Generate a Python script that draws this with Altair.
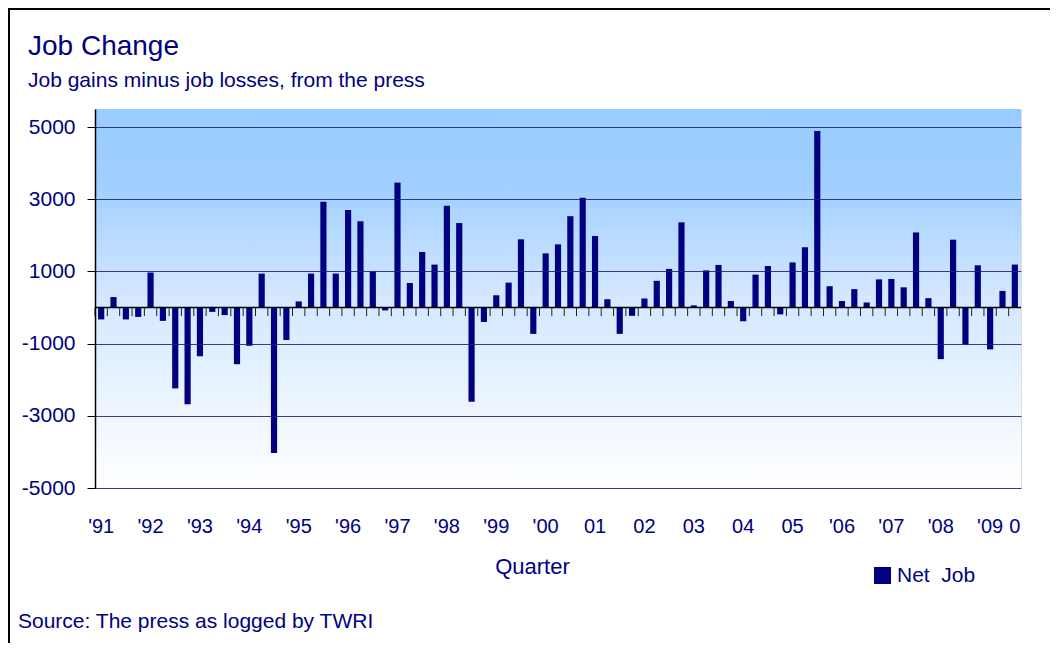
import altair as alt
import pandas as pd
import json

# ---- data ----
year_labels = ["'91", "'92", "'93", "'94", "'95", "'96", "'97", "'98", "'99", "'00",
               "01", "02", "03", "04", "05", "'06", "'07", "'08", "'09"]
last_label = "0"

net_job = [-330, 290, -330, -260, 970, -370, -2240, -2680, -1350, -120,
           -210, -1570, -1060, 940, -4030, -900, 170, 940, 2930, 940,
           2700, 2390, 1000, -80, 3460,
           680, 1540, 1190, 2820, 2340, -2610, -400, 340, 690, 1890,
           -730, 1500, 1750, 2530, 3040, 1980, 230, -730, -230, 250,
           740, 1070, 2360, 60, 1030,
           1180, 180, -380, 910, 1150, -190, 1250, 1670, 4890, 590,
           180, 510, 140, 780, 790, 560, 2080, 260, -1430, 1880,
           -1030, 1170, -1160, 460, 1190]

y_ticks = [-5000, -3000, -1000, 1000, 3000, 5000]
series_name = "Net\u00a0 Job"
title_text = "Job Change"
subtitle_text = "Job gains minus job losses, from the press"
source_text = "Source: The press as logged by TWRI"

n = len(net_job)
tick_labels = [year_labels[i // 4] if i % 4 == 0 else "" for i in range(n)]
tick_labels[-1] = last_label

df = pd.DataFrame({"q": list(range(n)), "value": net_job, "series": series_name})

NAVY = "#000080"
FONT = "Liberation Sans, Arial, sans-serif"
W, H = 926, 379

label_expr = json.dumps(tick_labels) + "[datum.value]"

x_enc = alt.X("q:N", title="Quarter",
              scale=alt.Scale(paddingInner=0, paddingOuter=0),
              axis=alt.Axis(labelExpr=label_expr, labelAngle=0, ticks=False, tickSize=0,
                            domain=False, labelOverlap=False, labelPadding=28,
                            labelFontSize=20, labelColor=NAVY, labelFont=FONT,
                            titleFont=FONT, titleFontSize=22, titleColor=NAVY,
                            titleFontWeight="normal", titleX=437, titleY=85,
                            titleBaseline="alphabetic"))

y_scale = alt.Scale(domain=[-5000, 5500], nice=False, zero=False)

background = alt.Chart(pd.DataFrame({"a": [0]})).mark_rect(
    fill=alt.LinearGradient(gradient="linear", x1=0, y1=0, x2=0, y2=1,
                            stops=[alt.GradientStop(color="#99CCFF", offset=0),
                                   alt.GradientStop(color="#A0CFFF", offset=0.2),
                                   alt.GradientStop(color="#D4E8FF", offset=0.5),
                                   alt.GradientStop(color="#FFFFFF", offset=1)])
).encode(x=alt.value(0), x2=alt.value(W), y=alt.value(0), y2=alt.value(H))

bars = alt.Chart(df).mark_bar(width={"band": 0.5}, color=NAVY).encode(
    x=x_enc,
    y=alt.Y("value:Q", title=None, scale=y_scale,
            axis=alt.Axis(values=y_ticks, grid=True, gridColor="#1a1a80", gridWidth=1,
                          gridOpacity=0.85, domain=True, domainColor="#000000",
                          domainWidth=1.5, tickColor="#000000", tickSize=8, ticks=True,
                          labelExpr="'' + datum.value",
                          labelFontSize=21, labelColor=NAVY, labelFont=FONT,
                          labelPadding=12, zindex=1)),
    color=alt.Color("series:N", scale=alt.Scale(range=[NAVY]),
                    legend=alt.Legend(title=None, orient="none", legendX=777, legendY=456,
                                      symbolType="square", symbolSize=289,
                                      symbolStrokeWidth=0, labelFontSize=21,
                                      labelColor=NAVY, labelFont=FONT, labelOffset=4,
                                      padding=0))
)

zero_line = alt.Chart(pd.DataFrame({"a": [0]})).mark_rule(color="#000000", strokeWidth=1.5).encode(
    y=alt.datum(0, scale=y_scale)
)

ticks = alt.Chart(df).mark_rule(color="#222222", strokeWidth=1).encode(
    x=alt.X("q:N", bandPosition=0),
    y=alt.datum(0),
    y2=alt.datum(-240),
)

def text_layer(txt, x, y, size):
    return alt.Chart(pd.DataFrame({"t": [txt]})).mark_text(
        align="left", baseline="alphabetic", font=FONT, fontSize=size, color=NAVY
    ).encode(x=alt.value(x), y=alt.value(y), text="t:N")

title = text_layer(title_text, -67, -54, 28)
subtitle = text_layer(subtitle_text, -67, -22, 21)
source = text_layer(source_text, -77, 519, 21)

frame = alt.Chart(pd.DataFrame({"a": [0]})).mark_rect(
    fill="transparent", stroke="#000000", strokeWidth=2
).encode(x=alt.value(-86), x2=alt.value(1200), y=alt.value(-100), y2=alt.value(800))

chart = alt.layer(background, bars, zero_line, ticks, title, subtitle, source, frame).properties(
    width=W, height=H,
    autosize=alt.AutoSizeParams(type="none"),
    padding={"left": 87, "top": 101, "right": 29, "bottom": 155},
).configure_view(stroke="#404040", strokeWidth=2).configure(background="white")

chart.save("out.html", embed_options={"renderer": "svg", "actions": False})
